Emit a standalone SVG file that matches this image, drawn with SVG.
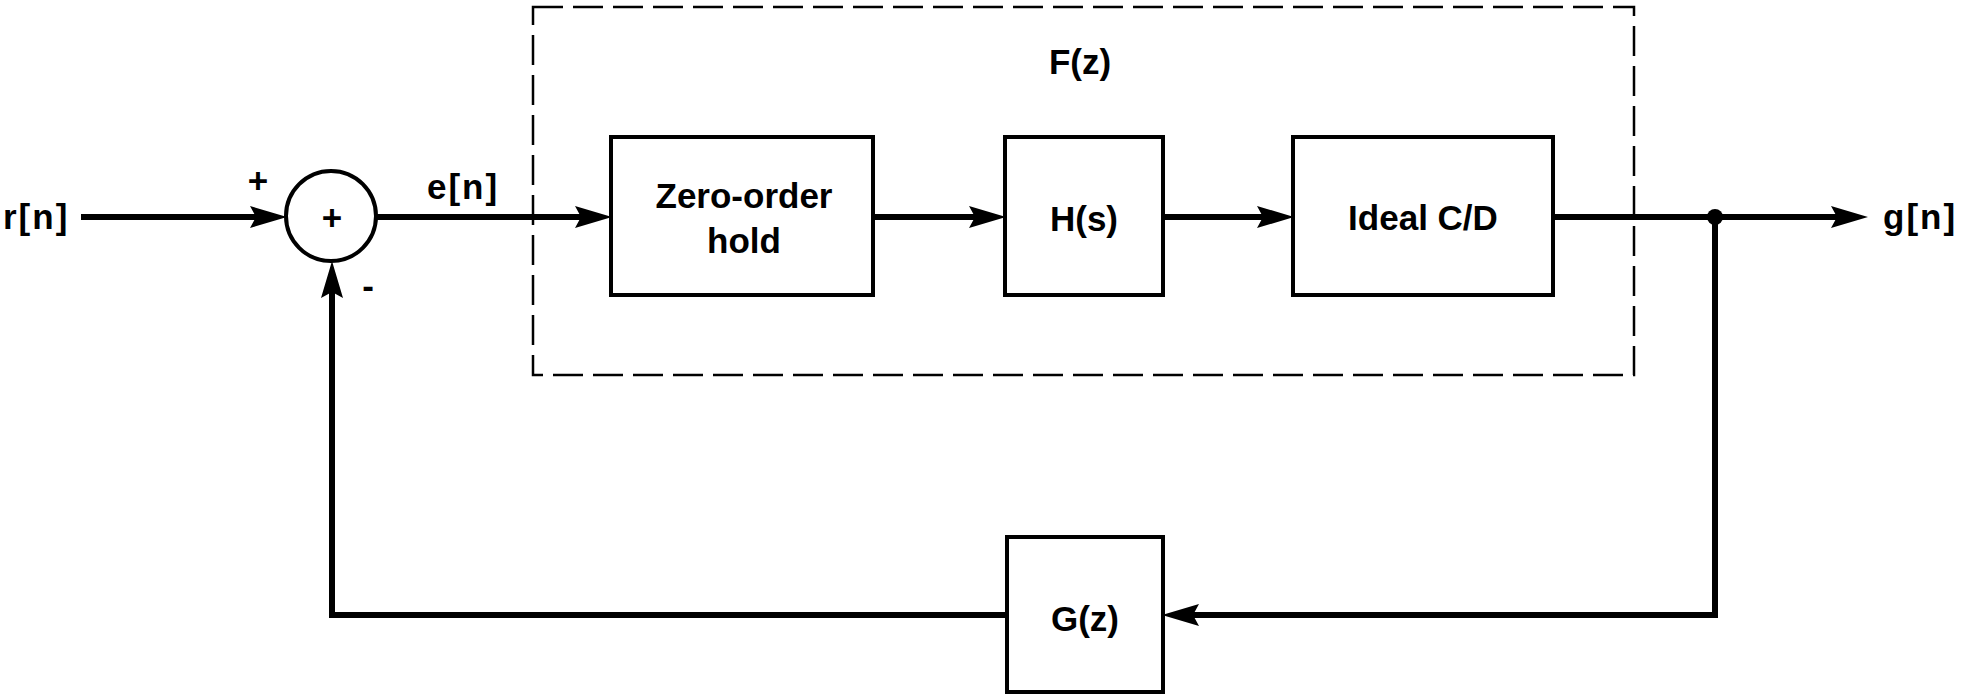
<svg xmlns="http://www.w3.org/2000/svg" width="1964" height="700" viewBox="0 0 1964 700">
<style>
.box{fill:#fff;stroke:#000;stroke-width:4}
.wire{fill:none;stroke:#000;stroke-width:6;stroke-linejoin:miter}
.lbl{font-family:"Liberation Sans",Arial,sans-serif;font-weight:bold;font-size:35px;fill:#000}
.c{text-anchor:middle}
.sig{letter-spacing:2px}
</style>
<defs>
<marker id="arr" markerUnits="userSpaceOnUse" markerWidth="40" markerHeight="24" viewBox="0 0 40 24" refX="16" refY="12" orient="auto">
<path d="M0,1 L37,12 L0,23 L6,12 Z" fill="#000"/>
</marker>
</defs>
<rect x="0" y="0" width="1964" height="700" fill="#fff"/>
<g id="frame-F">
<rect x="533" y="7" width="1101" height="368" fill="none" stroke="#000" stroke-width="2.5" stroke-dasharray="30 10"/>
<text class="lbl c" x="1080" y="74">F(z)</text>
</g>
<g id="connectors">
<path class="wire" d="M81,217 H266" marker-end="url(#arr)"/>
<path class="wire" d="M376,217 H591" marker-end="url(#arr)"/>
<path class="wire" d="M873,217 H985" marker-end="url(#arr)"/>
<path class="wire" d="M1163,217 H1273" marker-end="url(#arr)"/>
<path class="wire" d="M1553,217 H1847" marker-end="url(#arr)"/>
<path class="wire" d="M1715,217 V615 H1183" marker-end="url(#arr)"/>
<path class="wire" d="M1007,615 H332 V282" marker-end="url(#arr)"/>
<circle cx="1715" cy="217" r="8" fill="#000"/>
</g>
<g id="sum">
<circle cx="331" cy="216" r="45" fill="#fff" stroke="#000" stroke-width="4"/>
<text class="lbl c" x="332" y="230">+</text>
<text class="lbl c" x="258" y="193">+</text>
<text class="lbl c" x="368" y="298">-</text>
</g>
<g id="zoh">
<rect class="box" x="611" y="137" width="262" height="158"/>
<text class="lbl c" x="744" y="208">Zero-order</text>
<text class="lbl c" x="744" y="253">hold</text>
</g>
<g id="H">
<rect class="box" x="1005" y="137" width="158" height="158"/>
<text class="lbl c" x="1084" y="231">H(s)</text>
</g>
<g id="CD">
<rect class="box" x="1293" y="137" width="260" height="158"/>
<text class="lbl c" x="1423" y="230">Ideal C/D</text>
</g>
<g id="G">
<rect class="box" x="1007" y="537" width="156" height="155"/>
<text class="lbl c" x="1085" y="631">G(z)</text>
</g>
<g id="labels">
<text class="lbl sig" x="3" y="229">r[n]</text>
<text class="lbl sig" x="427" y="199">e[n]</text>
<text class="lbl sig" x="1883" y="229">g[n]</text>
</g>
</svg>
